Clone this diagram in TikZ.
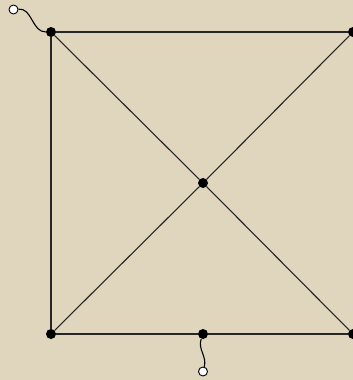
\documentclass[tikz,border=0pt]{standalone}
\begin{document}
\begin{tikzpicture}[x=1pt,y=-1pt,
  dot/.style={circle,fill=black,inner sep=0pt,minimum size=10pt},
  odot/.style={circle,draw=black,fill=white,line width=0.9pt,inner sep=0pt,minimum size=9pt},
  edge/.style={line width=1.1pt,draw=black!85},
  wire/.style={line width=1.1pt,draw=black}]
\definecolor{parch}{RGB}{224,214,190}
\useasboundingbox (0,0) rectangle (353,380);
\clip (0,0) rectangle (353,380);
\fill[parch] (0,0) rectangle (353,380);
\node[dot] (tl) at (51,32) {};
\node[dot] (tr) at (353,32) {};
\node[dot] (bl) at (51,334) {};
\node[dot] (br) at (353,334) {};
\node[dot] (bm) at (203,334) {};
\node[dot] (c) at (203,183) {};
\node[odot] (o1) at (13.5,9.5) {};
\node[odot] (o2) at (203,371.5) {};
\draw[edge] (tl) -- (tr);
\draw[edge] (tl) -- (bl);
\draw[edge] (bl) -- (bm);
\draw[edge] (bm) -- (br);
\draw[edge] (tl) -- (c);
\draw[edge] (c) -- (br);
\draw[edge] (tr) -- (c);
\draw[edge] (c) -- (bl);
\draw[wire] (o1) to[out=5,in=180] (tl);
\draw[wire] (bm) to[out=-110,in=75] (o2);
\end{tikzpicture}
\end{document}
